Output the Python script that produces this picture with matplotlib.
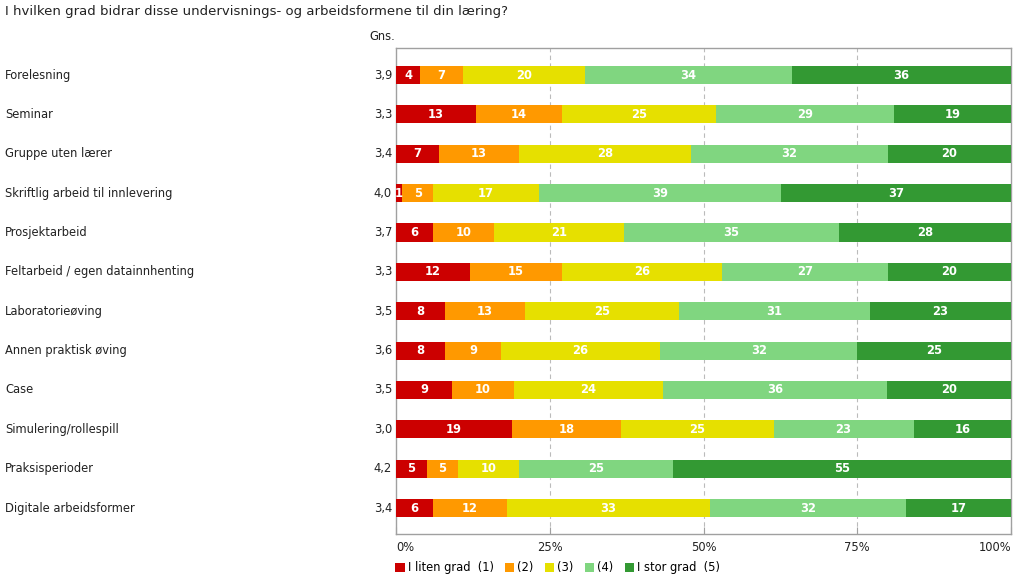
import matplotlib
matplotlib.use("Agg")
import matplotlib.pyplot as plt
from matplotlib.transforms import blended_transform_factory
from matplotlib.patches import Patch
import numpy as np

plt.rcParams['font.family'] = ['DejaVu Sans']

title = "I hvilken grad bidrar disse undervisnings- og arbeidsformene til din læring?"
categories = ["Forelesning", "Seminar", "Gruppe uten lærer", "Skriftlig arbeid til innlevering",
              "Prosjektarbeid", "Feltarbeid / egen datainnhenting", "Laboratorieøving",
              "Annen praktisk øving", "Case", "Simulering/rollespill", "Praksisperioder",
              "Digitale arbeidsformer"]
means = ["3,9", "3,3", "3,4", "4,0", "3,7", "3,3", "3,5", "3,6", "3,5", "3,0", "4,2", "3,4"]
s1 = [4, 13, 7, 1, 6, 12, 8, 8, 9, 19, 5, 6]
s2 = [7, 14, 13, 5, 10, 15, 13, 9, 10, 18, 5, 12]
s3 = [20, 25, 28, 17, 21, 26, 25, 26, 24, 25, 10, 33]
s4 = [34, 29, 32, 39, 35, 27, 31, 32, 36, 23, 25, 32]
s5 = [36, 19, 20, 37, 28, 20, 23, 25, 20, 16, 55, 17]
series_names = ["I liten grad  (1)", "(2)", "(3)", "(4)", "I stor grad  (5)"]
colors = ["#CC0000", "#FF9900", "#E6E000", "#80D680", "#339933"]
xticks = [0, 25, 50, 75, 100]
xticklabels = ["0%", "25%", "50%", "75%", "100%"]

W, H = 1024, 582
fig = plt.figure(figsize=(W / 100, H / 100), dpi=100)
ax = fig.add_axes([396 / W, 1 - 534 / H, (1011 - 396) / W, (534 - 48) / H])

data = np.array([s1, s2, s3, s4, s5], dtype=float)
totals = data.sum(axis=0)
norm = data / totals * 100
y = np.arange(len(categories))
left = np.zeros(len(categories))
fs = 8.3
for i in range(5):
    bars = ax.barh(y, norm[i], left=left, height=0.46, color=colors[i], edgecolor='none',
                   label=series_names[i], zorder=3)
    for j, b in enumerate(bars):
        ax.text(left[j] + norm[i][j] / 2, y[j], str(int(data[i][j])), ha='center', va='center',
                color='white', fontsize=fs, fontweight='bold', zorder=4)
    left += norm[i]

ax.set_xlim(0, 100)
ax.set_ylim(11.66, -0.686)
for xv in [25, 50, 75]:
    ax.axvline(xv, color='#BBBBBB', linestyle=(0, (4, 3)), linewidth=0.8, zorder=1)
for sp in ax.spines.values():
    sp.set_color('#A0A0A0')
    sp.set_linewidth(1.0)
ax.set_yticks([])
ax.set_xticks(xticks)
ax.set_xticklabels([])
ax.tick_params(axis='x', direction='in', length=5, color='#A0A0A0')

has = ['left', 'center', 'center', 'center', 'right']
for xv, lab, ha in zip(xticks, xticklabels, has):
    ax.text(xv, -0.015, lab, transform=ax.get_xaxis_transform(), ha=ha, va='top',
            fontsize=fs, color='#222222')

trans = blended_transform_factory(fig.transFigure, ax.transData)
for j, cat in enumerate(categories):
    ax.text(5 / W, y[j], cat, transform=trans, ha='left', va='center', fontsize=fs,
            color='#222222', clip_on=False)
    ax.text(-0.0065, y[j], means[j], transform=ax.get_yaxis_transform(), ha='right',
            va='center', fontsize=fs, color='#222222')

fig.text(395 / W, 1 - 37 / H, "Gns.", ha='right', va='center', fontsize=fs, color='#222222')
fig.text(5 / W, 1 - 11 / H, title, ha='left', va='center', fontsize=9.5, color='#222222')

handles = [Patch(facecolor=c, edgecolor='none') for c in colors]
fig.legend(handles, series_names, loc='center left', bbox_to_anchor=(395 / W, 1 - 568 / H),
           ncol=5, frameon=False, fontsize=fs, handlelength=0.85, handleheight=0.9,
           handletextpad=0.25, columnspacing=0.95, borderaxespad=0, borderpad=0)

fig.savefig("out.png", dpi=100, facecolor='white')
